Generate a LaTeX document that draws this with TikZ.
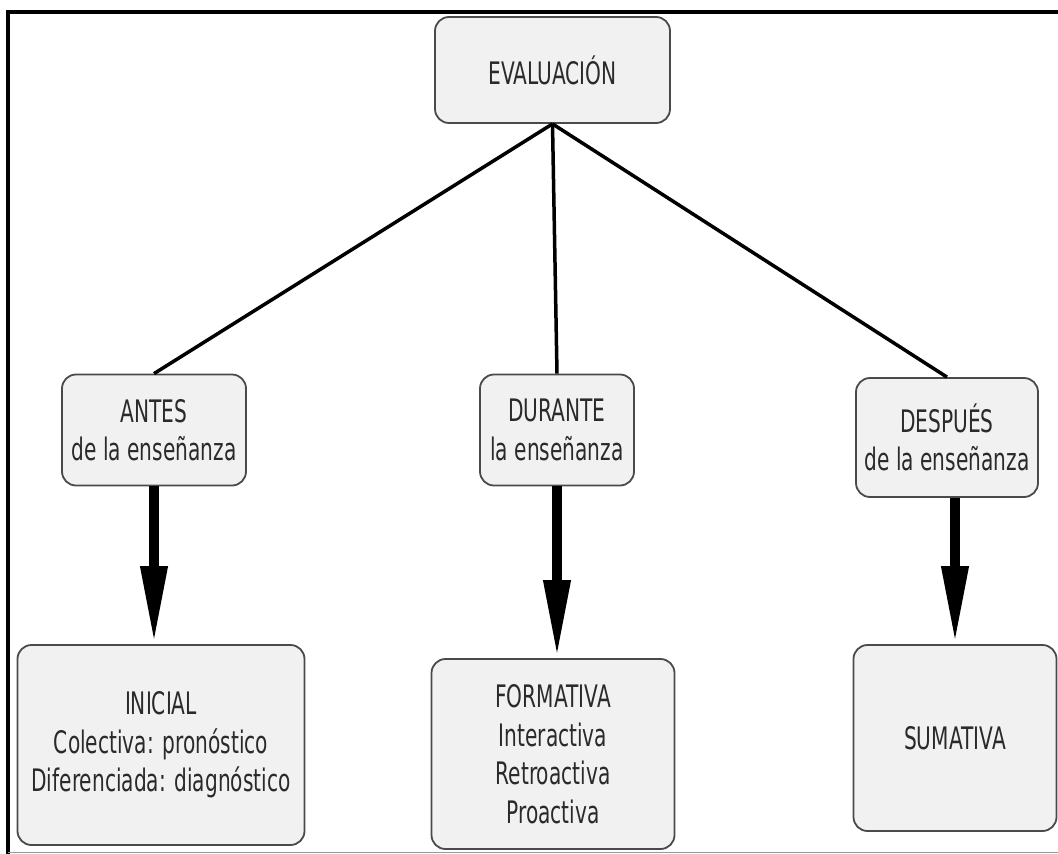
\documentclass[tikz,border=0pt]{standalone}
\usepackage{fontspec}
\setmainfont{DejaVu Sans}[FakeStretch=0.65]
\usetikzlibrary{arrows.meta}
\definecolor{boxfill}{HTML}{F1F1F1}
\definecolor{boxline}{HTML}{4A4A4A}
\definecolor{boxtext}{HTML}{2A2A2A}
\begin{document}
\begin{tikzpicture}[x=1pt,y=-1pt]
\tikzstyle{every node}+=[inner sep=0pt]
\tikzstyle{etapa}=[draw=boxline, line width=1.8pt, fill=boxfill, rounded corners=14pt, align=center, text=boxtext, font=\fontsize{31}{38.5}\selectfont]
\tikzstyle{rama}=[black, line width=3.5pt]
\tikzstyle{flecha}=[black, line width=10pt, -{Triangle[length=78pt,width=25pt]}]
\useasboundingbox (0,0) rectangle (1058,854);
\draw [black, line width=3.5pt] (8,854) -- (8,12) -- (1058,12);
\draw [black!40, line width=1pt] (8,852) -- (1058,852);
\node [etapa, minimum width=235pt, minimum height=106pt] (eval) at (552.5,70) {EVALUACIÓN};
\node [etapa, minimum width=184pt, minimum height=111pt] (antes) at (154,430) {ANTES\\de la enseñanza};
\node [etapa, minimum width=154pt, minimum height=111pt] (durante) at (557,430) {DURANTE\\la enseñanza};
\node [etapa, minimum width=182pt, minimum height=119pt] (despues) at (947,437.5) {DESPUÉS\\de la enseñanza};
\node [etapa, minimum width=287pt, minimum height=200pt] (inicial) at (161,745) {INICIAL\\Colectiva: pronóstico\\Diferenciada: diagnóstico};
\node [etapa, minimum width=243pt, minimum height=190pt] (formativa) at (553,754) {FORMATIVA\\Interactiva\\Retroactiva\\Proactiva};
\node [etapa, minimum width=203pt, minimum height=186pt] (sumativa) at (955,738) {SUMATIVA};
\draw [rama] (eval.south) -- (antes.north);
\draw [rama] (eval.south) -- (durante.north);
\draw [rama] (eval.south) -- (despues.north);
\draw [flecha] (antes.south) -- (antes.south |- inicial.north);
\draw [flecha] (durante.south) -- (durante.south |- formativa.north);
\draw [flecha] (sumativa.north |- despues.south) -- (sumativa.north);
\end{tikzpicture}
\end{document}
